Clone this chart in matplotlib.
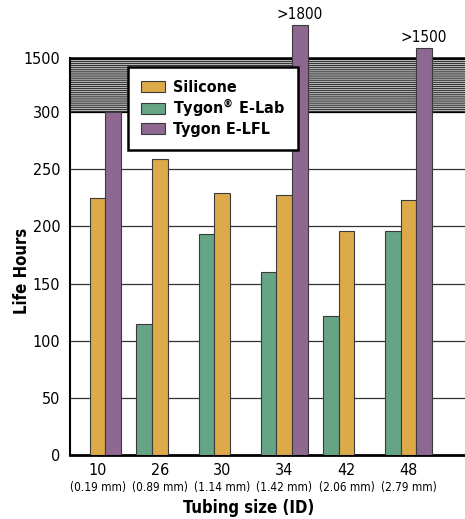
import numpy as np
import matplotlib
matplotlib.use('Agg')
from matplotlib import pyplot as plt
from matplotlib import font_manager
from matplotlib.transforms import blended_transform_factory

# the reference uses a condensed face; take a narrow one if there is one
fonts = font_manager.fontManager.ttflist
names = {f.name for f in fonts}
if 'Liberation Sans Narrow' in names:
    plt.rcParams['font.family'] = ['Liberation Sans Narrow', 'DejaVu Sans']
elif any(f.name == 'DejaVu Sans' and f.stretch == 'condensed' for f in fonts):
    plt.rcParams['font.family'] = ['DejaVu Sans']
    plt.rcParams['font.stretch'] = 'condensed'
else:
    plt.rcParams['font.family'] = ['Roboto', 'DejaVu Sans']
plt.rcParams['hatch.linewidth'] = 0.5

# data
sizes = ['10', '26', '30', '34', '42', '48']
sizes_mm = ['(0.19 mm)', '(0.89 mm)', '(1.14 mm)', '(1.42 mm)', '(2.06 mm)', '(2.79 mm)']
silicone = [225, 259, 229, 227, 196, 223]
e_lab = [np.nan, 115, 193, 160, 122, 196]
e_lfl = [300, np.nan, np.nan, 1800, np.nan, 1590]
over_labels = {3: '>1800', 5: '>1500'}

colors = {'silicone': '#DDAA4A', 'e_lab': '#66A486', 'e_lfl': '#8E6890'}

# broken y scale: linear to 300, squeezed 300-1500, then a bit wider above
K1 = 47.5 / 1200
K2 = 0.0953
U1500 = 300 + 1200 * K1

def fwd(v):
    v = np.asarray(v, dtype=float)
    return np.where(v <= 300, v,
                    np.where(v <= 1500, 300 + (v - 300) * K1, U1500 + (v - 1500) * K2))

def inv(u):
    u = np.asarray(u, dtype=float)
    return np.where(u <= 300, u,
                    np.where(u <= U1500, 300 + (u - 300) / K1, 1500 + (u - U1500) / K2))

fig = plt.figure(figsize=(4.65, 5.19), dpi=100)
ax = fig.add_axes([70 / 465, 64 / 519, 395 / 465, 455 / 519])
ax.set_yscale('function', functions=(fwd, inv))

x = np.arange(len(sizes))
w = 0.25
ax.bar(x - w, e_lab, w, color=colors['e_lab'], edgecolor='#3a3a3a', lw=0.8, zorder=3,
       label='Tygon$^{\\mathregular{®}}$ E-Lab')
ax.bar(x, silicone, w, color=colors['silicone'], edgecolor='#3a3a3a', lw=0.8, zorder=3,
       label='Silicone')
ax.bar(x + w, e_lfl, w, color=colors['e_lfl'], edgecolor='#3a3a3a', lw=0.8, zorder=3,
       label='Tygon E-LFL')

for i, txt in over_labels.items():
    ax.annotate(txt, (x[i] + w, e_lfl[i]), xytext=(0, 2), textcoords='offset points',
                ha='center', va='bottom', fontsize=11)

# compressed band between 300 and 1500
ax.axhspan(300, 1500, facecolor='#b4b4b4', edgecolor='black', hatch='--------', lw=0, zorder=1)
ax.axhline(1500, color='black', lw=1.8, zorder=2)
ax.axhline(300, color='black', lw=0.9, zorder=2)
for g in [50, 100, 150, 200, 250]:
    ax.axhline(g, color='#333333', lw=0.9, zorder=1)

ax.set_xlim(-0.444, 5.907)
ax.set_ylim(0, 2030)
ax.set_yticks([0, 50, 100, 150, 200, 250, 300, 1500])
ax.set_xticks(x)
ax.set_xticklabels(sizes, fontsize=11.5)
ax.tick_params(axis='both', length=0, labelsize=11.5)
ax.tick_params(axis='y', pad=7)
ax.tick_params(axis='x', pad=6)

trans = blended_transform_factory(ax.transData, ax.transAxes)
for i, mm in enumerate(sizes_mm):
    ax.text(x[i], -0.058, mm, transform=trans, ha='center', va='top', fontsize=8.5)

for s in ['top', 'right']:
    ax.spines[s].set_visible(False)
ax.spines['left'].set_bounds(0, 1500)
ax.spines['left'].set_linewidth(1.5)
ax.spines['bottom'].set_linewidth(2)

fig.text(249 / 465, 1 - 508 / 519, 'Tubing size (ID)', ha='center', va='center',
         fontsize=12, fontweight='bold')
fig.text(22 / 465, 1 - 271 / 519, 'Life Hours', ha='center', va='center', rotation=90,
         fontsize=12, fontweight='bold')

handles, labels = ax.get_legend_handles_labels()
order = [1, 0, 2]
leg = ax.legend([handles[i] for i in order], [labels[i] for i in order],
                loc='upper left', bbox_to_anchor=(0.147, 0.853), borderaxespad=0,
                fancybox=False, framealpha=1, edgecolor='black',
                prop={'weight': 'bold', 'size': 11.5}, handlelength=1.45, handleheight=0.7,
                borderpad=0.84, labelspacing=0.15, handletextpad=0.5)
leg.get_frame().set_linewidth(1.8)
leg.set_zorder(5)

fig.savefig('out.png', dpi=100)
